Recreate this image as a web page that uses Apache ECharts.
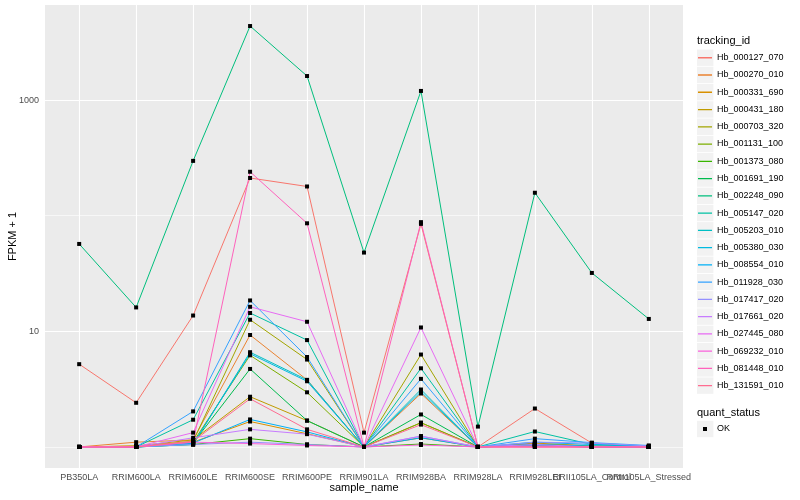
<!DOCTYPE html>
<html><head><meta charset="utf-8">
<script src="https://cdn.jsdelivr.net/npm/echarts@6/dist/echarts.min.js"></script>
<style>html,body{margin:0;padding:0;background:#fff}#c{width:800px;height:500px}</style>
</head><body><div id="c"></div>
<script>
// ---- data ----
const categories = ['PB350LA','RRIM600LA','RRIM600LE','RRIM600SE','RRIM600PE','RRIM901LA','RRIM928BA','RRIM928LA','RRIM928LEI','RRII105LA_Control','RRII105LA_Stressed'];
const trackingIds = ['Hb_000127_070','Hb_000270_010','Hb_000331_690','Hb_000431_180','Hb_000703_320','Hb_001131_100','Hb_001373_080','Hb_001691_190','Hb_002248_090','Hb_005147_020','Hb_005203_010','Hb_005380_030','Hb_008554_010','Hb_011928_030','Hb_017417_020','Hb_017661_020','Hb_027445_080','Hb_069232_010','Hb_081448_010','Hb_131591_010'];
const seriesColors = ['#F8766D','#EA8331','#D89000','#C09B00','#A3A500','#7CAE00','#39B600','#00BB4E','#00BF7D','#00C1A3','#00BFC4','#00BAE0','#00B0F6','#35A2FF','#9590FF','#C77CFF','#E76BF3','#FA62DB','#FF62BC','#FF6C91'];
// FPKM + 1 per sample, in category order
const Hb_000127_070 = [5.2, 2.41, 13.7, 212, 179, 1.33, 85, 1.0, 2.15, 1.08, 1.0];
const Hb_000270_010 = [1.0, 1.1, 1.15, 9.3, 3.8, 1.0, 2.9, 1.0, 1.05, 1.0, 1.0];
const Hb_000331_690 = [1.0, 1.02, 1.1, 1.66, 1.3, 1.0, 1.2, 1.0, 1.08, 1.02, 1.0];
const Hb_000431_180 = [1.0, 1.02, 1.15, 2.72, 1.69, 1.0, 1.62, 1.0, 1.05, 1.0, 1.0];
const Hb_000703_320 = [1.0, 1.0, 1.12, 12.6, 5.7, 1.0, 6.3, 1.0, 1.06, 1.02, 1.0];
const Hb_001131_100 = [1.0, 1.0, 1.1, 6.2, 2.97, 1.0, 1.62, 1.0, 1.04, 1.0, 1.0];
const Hb_001373_080 = [1.0, 1.0, 1.05, 1.18, 1.05, 1.0, 1.06, 1.0, 1.02, 1.0, 1.0];
const Hb_001691_190 = [1.0, 1.0, 1.08, 4.73, 1.69, 1.0, 1.91, 1.0, 1.05, 1.0, 1.0];
const Hb_002248_090 = [57, 16.1, 298, 4370, 1615, 48, 1200, 1.5, 158, 32, 12.8];
const Hb_005147_020 = [1.0, 1.0, 1.72, 14.4, 8.4, 1.0, 4.79, 1.0, 1.36, 1.05, 1.0];
const Hb_005203_010 = [1.0, 1.0, 1.05, 6.6, 3.8, 1.0, 3.14, 1.0, 1.03, 1.0, 1.0];
const Hb_005380_030 = [1.0, 1.0, 1.06, 6.4, 3.7, 1.0, 3.0, 1.0, 1.05, 1.02, 1.0];
const Hb_008554_010 = [1.0, 1.0, 1.08, 1.73, 1.35, 1.0, 1.2, 1.0, 1.1, 1.05, 1.02];
const Hb_011928_030 = [1.0, 1.0, 2.03, 18.5, 6.0, 1.0, 3.88, 1.0, 1.18, 1.09, 1.03];
const Hb_017417_020 = [1.0, 1.0, 1.05, 1.1, 1.05, 1.0, 1.24, 1.0, 1.1, 1.08, 1.02];
const Hb_017661_020 = [1.0, 1.0, 1.2, 1.42, 1.29, 1.0, 1.24, 1.0, 1.05, 1.0, 1.0];
const Hb_027445_080 = [1.0, 1.0, 1.33, 16.3, 12.1, 1.0, 10.8, 1.0, 1.02, 1.0, 1.0];
const Hb_069232_010 = [1.0, 1.0, 1.1, 1.07, 1.03, 1.0, 1.04, 1.0, 1.0, 1.0, 1.0];
const Hb_081448_010 = [1.0, 1.0, 1.1, 240, 86, 1.0, 88, 1.0, 1.0, 1.0, 1.0];
const Hb_131591_010 = [1.0, 1.0, 1.12, 2.61, 1.42, 1.0, 1.56, 1.0, 1.0, 1.0, 1.0];
const seriesValues = [Hb_000127_070,Hb_000270_010,Hb_000331_690,Hb_000431_180,Hb_000703_320,Hb_001131_100,Hb_001373_080,Hb_001691_190,Hb_002248_090,Hb_005147_020,Hb_005203_010,Hb_005380_030,Hb_008554_010,Hb_011928_030,Hb_017417_020,Hb_017661_020,Hb_027445_080,Hb_069232_010,Hb_081448_010,Hb_131591_010];
const yTickLabels = [10, 1000];
const yMinorBreaks = [1, 100];

// ---- layout ----
const FONT = '"Liberation Sans", Arial, Helvetica, sans-serif';
const lg = Math.log10;
let lo = Infinity, hi = -Infinity;
seriesValues.forEach(a => a.forEach(v => { lo = Math.min(lo, lg(v)); hi = Math.max(hi, lg(v)); }));
const pad = (hi - lo) * 0.05;
const yMin = lo - pad, yMax = hi + pad;
const xMin = -0.6, xMax = categories.length - 1 + 0.6;
const xIdx = categories.map((_, i) => i);
const xEven = xIdx.filter(i => i % 2 === 0);
const xOdd = xIdx.filter(i => i % 2 === 1);
const EPS = 1e-9;

const lineSeries = trackingIds.map((name, k) => ({
  name, type: 'line', symbol: 'none', z: 3, silent: true,
  data: seriesValues[k].map((v, i) => [i, lg(v)]),
  lineStyle: { color: seriesColors[k], width: 1 },
  itemStyle: { color: seriesColors[k] }
}));
const pts = [];
seriesValues.forEach(a => a.forEach((v, i) => pts.push([i, lg(v)])));

const gridLines = [];
yTickLabels.forEach(v => gridLines.push({ yAxis: lg(v) + EPS, lineStyle: { color: '#fff', width: 1.1, type: 'solid' } }));
yMinorBreaks.forEach(v => gridLines.push({ yAxis: lg(v) + EPS, lineStyle: { color: '#fff', width: 0.6, type: 'solid' } }));
xIdx.forEach(i => gridLines.push({ xAxis: i + EPS, lineStyle: { color: '#fff', width: 1.1, type: 'solid' } }));

const linePath = 'path://M0,0h0.01v0.01h-0.01z M0,6.4h14v1.3h-14z M14,14h-0.01v-0.01h0.01z';
const pointPath = 'path://M0,0h0.01v0.01h-0.01z M5,5h4v4h-4z M14,14h-0.01v-0.01h0.01z';
const L_TOP = 57.7, L_PITCH = 17.26;

const graphic = [
  { type: 'text', x: 697, y: 41, style: { text: 'tracking_id', fill: '#000', font: '11px ' + FONT, verticalAlign: 'middle' } },
  { type: 'text', x: 697, y: 412.5, style: { text: 'quant_status', fill: '#000', font: '11px ' + FONT, verticalAlign: 'middle' } },
  { type: 'rect', shape: { x: 697, y: 429 - 8.2, width: 16.4, height: 16.4 }, style: { fill: '#F2F2F2' } }
];
trackingIds.forEach((_, i) => graphic.push({ type: 'rect', shape: { x: 697, y: L_TOP + i * L_PITCH - 8.2, width: 16.4, height: 16.4 }, style: { fill: '#F2F2F2' } }));

const labelStyle = { color: '#4D4D4D', fontSize: 9, margin: 5, fontFamily: FONT, hideOverlap: false, showMinLabel: true, showMaxLabel: true };
const chart = echarts.init(document.getElementById('c'), null, { renderer: 'canvas' });
chart.setOption({
  animation: false,
  backgroundColor: '#fff',
  textStyle: { fontFamily: FONT },
  grid: { left: 45, top: 5, right: 117, bottom: 32, show: true, backgroundColor: '#EBEBEB', borderWidth: 0, containLabel: false, outerBoundsMode: 'none' },
  xAxis: [{
    type: 'value', min: xMin, max: xMax, position: 'bottom',
    name: 'sample_name', nameLocation: 'middle', nameGap: 14, nameMoveOverlap: false,
    nameTextStyle: { color: '#000', fontSize: 11, fontFamily: FONT },
    axisLine: { show: false },
    splitLine: { show: false },
    axisTick: { show: true, customValues: xIdx, length: 4, lineStyle: { color: '#333', width: 1 } },
    axisLabel: Object.assign({ customValues: xEven, formatter: v => categories[Math.round(v)] }, labelStyle)
  }, {
    type: 'value', min: xMin, max: xMax, position: 'bottom', offset: 0,
    axisLine: { show: false }, splitLine: { show: false }, axisTick: { show: false },
    axisLabel: Object.assign({ customValues: xOdd, formatter: v => categories[Math.round(v)] }, labelStyle)
  }],
  yAxis: {
    type: 'value', min: yMin, max: yMax,
    name: 'FPKM + 1', nameLocation: 'middle', nameGap: 27, nameRotate: 90, nameMoveOverlap: false,
    nameTextStyle: { color: '#000', fontSize: 11, fontFamily: FONT },
    axisLine: { show: false },
    splitLine: { show: false },
    axisTick: { show: true, customValues: yTickLabels.map(lg), length: 4, lineStyle: { color: '#333', width: 1 } },
    axisLabel: { customValues: yTickLabels.map(lg), formatter: v => String(Math.round(Math.pow(10, v))), color: '#4D4D4D', fontSize: 9, margin: 6, fontFamily: FONT }
  },
  legend: [
    { data: trackingIds.map(n => ({ name: n, icon: linePath })), orient: 'vertical', left: 698, top: L_TOP - 7, padding: 0,
      itemWidth: 14, itemHeight: 14, itemGap: L_PITCH - 14, selectedMode: false,
      textStyle: { fontSize: 9, color: '#000', fontFamily: FONT } },
    { data: [{ name: 'OK', icon: pointPath }], orient: 'vertical', left: 698, top: 429 - 7, padding: 0,
      itemWidth: 14, itemHeight: 14, selectedMode: false,
      textStyle: { fontSize: 9, color: '#000', fontFamily: FONT } }
  ],
  graphic,
  series: [
    { name: '_grid', type: 'line', data: [], silent: true, z: 1, xAxisIndex: 0,
      markLine: { silent: true, symbol: ['none', 'none'], label: { show: false }, z: 1, animation: false, data: gridLines } },
    ...lineSeries,
    { name: 'OK', type: 'scatter', symbol: 'rect', symbolSize: 4, z: 4, silent: true, xAxisIndex: 0,
      itemStyle: { color: '#000', opacity: 1 }, data: pts }
  ]
});
</script></body></html>
